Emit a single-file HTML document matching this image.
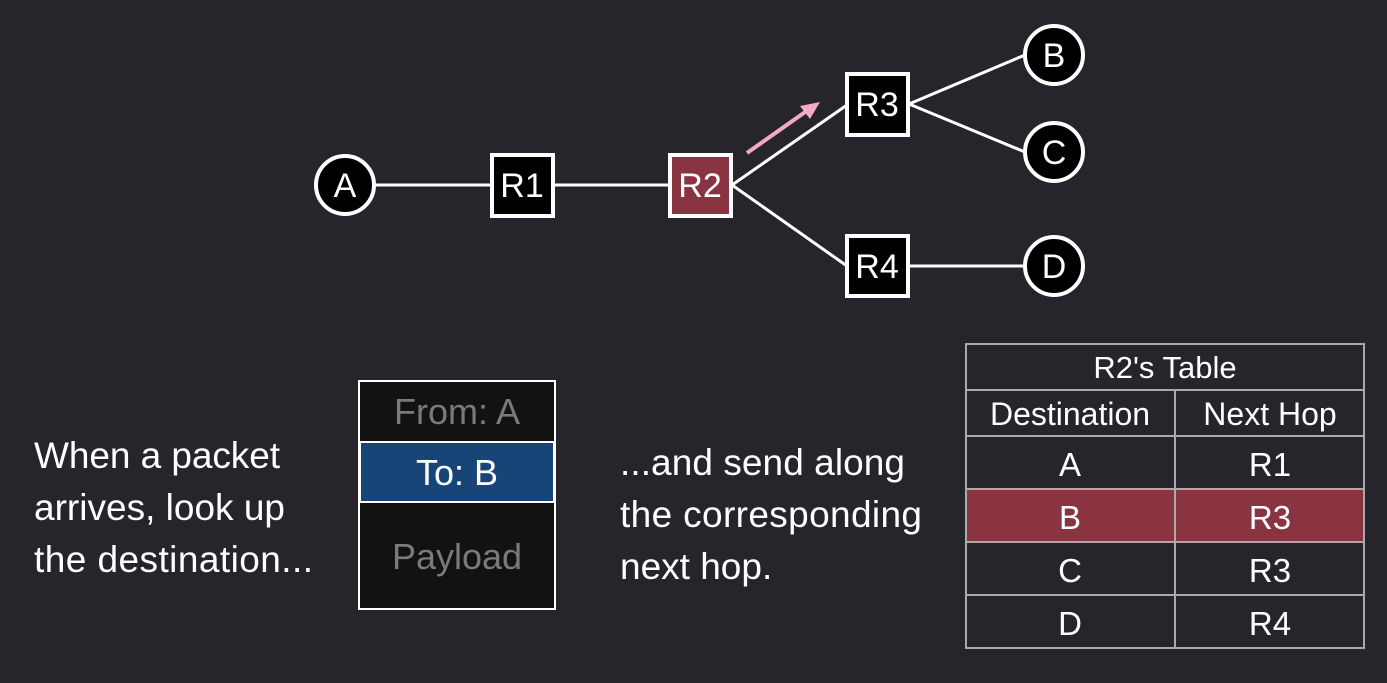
<!DOCTYPE html>
<html><head><style>
body{margin:0;background:#26252b;width:1387px;height:683px;overflow:hidden;font-family:"Liberation Sans",sans-serif}
svg{position:absolute;left:0;top:0}
</style></head><body>
<svg width="1387" height="683" font-family="Liberation Sans, sans-serif">
<g stroke="#fff" stroke-width="3" fill="none">
<line x1="375" y1="185" x2="491" y2="185"/>
<line x1="554" y1="185" x2="669" y2="185"/>
<line x1="732" y1="185" x2="847" y2="105"/>
<line x1="732" y1="185" x2="847" y2="266"/>
<line x1="909" y1="104" x2="1025" y2="55"/>
<line x1="909" y1="104" x2="1025" y2="152"/>
<line x1="909" y1="266" x2="1025" y2="266"/>
</g>
<line x1="747" y1="153" x2="808" y2="110" stroke="#f4a9c6" stroke-width="4"/>
<polygon points="820,102 800,106 810,119" fill="#f4a9c6"/>
<g stroke="#fff" stroke-width="4">
<circle cx="345" cy="185" r="29" fill="#000"/>
<rect x="492" y="155" width="61" height="61" fill="#000"/>
<rect x="670" y="155" width="61" height="61" fill="#8a3441"/>
<rect x="847" y="74" width="61" height="61" fill="#000"/>
<rect x="847" y="236" width="61" height="60" fill="#000"/>
<circle cx="1054" cy="55" r="29" fill="#000"/>
<circle cx="1054" cy="152" r="29" fill="#000"/>
<circle cx="1054" cy="266" r="29" fill="#000"/>
</g>
<g fill="#fff" font-size="34" text-anchor="middle">
<text x="345" y="197">A</text>
<text x="522" y="197">R1</text>
<text x="700" y="197">R2</text>
<text x="877" y="116">R3</text>
<text x="877" y="278">R4</text>
<text x="1054" y="67">B</text>
<text x="1054" y="164">C</text>
<text x="1054" y="278">D</text>
</g>
<g fill="#fff" font-size="37">
<text x="34" y="468" textLength="246">When a packet</text>
<text x="34" y="520" textLength="251">arrives, look up</text>
<text x="34" y="572" textLength="279">the destination...</text>
<text x="620" y="475" textLength="285">...and send along</text>
<text x="620" y="527" textLength="302">the corresponding</text>
<text x="620" y="579">next hop.</text>
</g>
<rect x="359" y="381" width="196" height="228" fill="#121212" stroke="#fff" stroke-width="2"/>
<rect x="360" y="442" width="194" height="60" fill="#174577" stroke="#fff" stroke-width="2"/>
<g font-size="36" text-anchor="middle">
<text x="457" y="424" fill="#7a7a7a">From: A</text>
<text x="457" y="485" fill="#fff">To: B</text>
<text x="457" y="569" fill="#7a7a7a">Payload</text>
</g>
<rect x="966" y="489" width="398" height="53" fill="#8a3441"/>
<g stroke="#aaa" stroke-width="2" fill="none">
<rect x="966" y="344" width="398" height="304"/>
<line x1="966" y1="390" x2="1364" y2="390"/>
<line x1="966" y1="436" x2="1364" y2="436"/>
<line x1="966" y1="489" x2="1364" y2="489"/>
<line x1="966" y1="542" x2="1364" y2="542"/>
<line x1="966" y1="595" x2="1364" y2="595"/>
<line x1="1175" y1="390" x2="1175" y2="648"/>
</g>
<g fill="#fff" text-anchor="middle">
<text x="1165" y="378" font-size="31">R2's Table</text>
<text x="1070" y="425" font-size="32">Destination</text>
<text x="1270" y="425" font-size="32">Next Hop</text>
<g font-size="33">
<text x="1070" y="476">A</text><text x="1270" y="476">R1</text>
<text x="1070" y="529">B</text><text x="1270" y="529">R3</text>
<text x="1070" y="582">C</text><text x="1270" y="582">R3</text>
<text x="1070" y="635">D</text><text x="1270" y="635">R4</text>
</g></g>
</svg>
</body></html>
